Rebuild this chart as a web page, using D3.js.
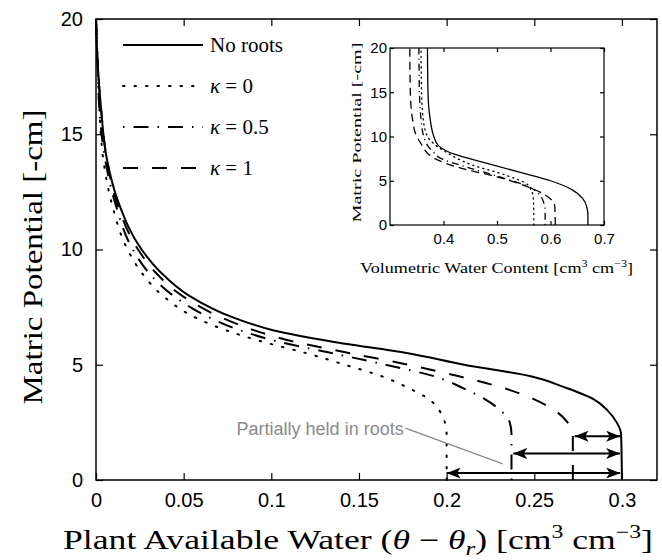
<!DOCTYPE html>
<html>
<head>
<meta charset="utf-8">
<script src="https://cdn.jsdelivr.net/npm/d3@7"></script>
<style>
  body { margin: 0; background: #fff; }
  svg { display: block; }
</style>
</head>
<body>
<div id="chart"></div>
<script>
// matric potential levels (cm) shared by the main curves
const potentials = [0, 2, 2.5, 3, 3.5, 4, 4.5, 5, 5.5, 6, 6.5, 7, 8, 9, 10, 12, 14, 16, 18, 20];

// plant available water (theta - theta_r)
const noRoots  = [0.3, 0.2995, 0.297, 0.292, 0.284, 0.268, 0.248, 0.21, 0.178, 0.135, 0.101, 0.08, 0.053, 0.037, 0.026, 0.013, 0.006, 0.003, 0.001, 0];
const kappa0   = [0.2, 0.2, 0.199, 0.196, 0.19, 0.178, 0.163, 0.142, 0.12, 0.095, 0.074, 0.058, 0.038, 0.026, 0.018, 0.009, 0.004, 0.002, 0.001, 0];
const kappa05  = [0.237, 0.237, 0.236, 0.231, 0.222, 0.209, 0.193, 0.165, 0.135, 0.104, 0.082, 0.066, 0.044, 0.03, 0.021, 0.011, 0.005, 0.002, 0.001, 0];
const kappa1   = [0.272, 0.272, 0.269, 0.262, 0.25, 0.232, 0.207, 0.178, 0.145, 0.113, 0.09, 0.073, 0.049, 0.034, 0.024, 0.012, 0.006, 0.003, 0.001, 0];

// inset: volumetric water content vs potential
const insetNoRootsPot  = [0, 1, 2, 3, 4, 5, 6, 7, 8, 9, 10, 12, 15, 20];
const insetNoRoots     = [0.67, 0.67, 0.668, 0.66, 0.64, 0.6, 0.54, 0.48, 0.42, 0.39, 0.382, 0.375, 0.371, 0.37];
const insetKappa0Pot   = [0, 3, 4.5, 5.66, 6.8, 8.3, 9.4, 10, 12, 15, 20];
const insetKappa0      = [0.569, 0.568, 0.558, 0.515, 0.453, 0.403, 0.378, 0.37, 0.362, 0.359, 0.358];
const insetKappa05Pot  = [0, 1.5, 2.6, 4.15, 5.5, 6.6, 7.7, 8, 9, 10, 12, 15, 20];
const insetKappa05     = [0.59, 0.59, 0.587, 0.565, 0.502, 0.44, 0.39, 0.385, 0.37, 0.363, 0.358, 0.355, 0.354];
const insetKappa1Pot   = [0, 2.1, 3.4, 4.3, 5.5, 6.4, 7.5, 8, 9, 10, 12, 15, 20];
const insetKappa1      = [0.609, 0.608, 0.59, 0.558, 0.496, 0.434, 0.384, 0.372, 0.36, 0.35, 0.342, 0.338, 0.337];

const legendLabels = ["No roots", "κ = 0", "κ = 0.5", "κ = 1"];
const xTicks = [0, 0.05, 0.1, 0.15, 0.2, 0.25, 0.3];
const yTicks = [0, 5, 10, 15, 20];
const insetXTicks = [0.4, 0.5, 0.6, 0.7];

// double arrows: [potential, from, to]
const arrowRows = [[1.9, 0.273, 0.299], [1.15, 0.238, 0.299], [0.3, 0.2, 0.299]];

const dashes = ["none", "1.5,10", "1.5,9,15,9", "15,14"];

const width = 662;
const height = 560;
const margin = { top: 19, right: 5, bottom: 80, left: 96 };
const innerW = width - margin.left - margin.right;
const innerH = height - margin.top - margin.bottom;

const svg = d3.select('#chart')
  .append('svg')
  .attr('width', width)
  .attr('height', height);

svg.append('defs').append('marker')
  .attr('id', 'head')
  .attr('viewBox', '0 0 14 11')
  .attr('refX', 14)
  .attr('refY', 5.5)
  .attr('markerWidth', 14)
  .attr('markerHeight', 11)
  .attr('markerUnits', 'userSpaceOnUse')
  .attr('orient', 'auto-start-reverse')
  .append('path')
  .attr('d', 'M0,0 L14,5.5 L0,11 L3.5,5.5 Z')
  .attr('fill', '#000');

const g = svg.append('g')
  .attr('transform', `translate(${margin.left},${margin.top})`);

const x = d3.scaleLinear().domain([0, 0.32]).range([0, innerW]);
const y = d3.scaleLinear().domain([0, 20]).range([innerH, 0]);

const sansFont = '"Liberation Sans", Arial, sans-serif';
const serifFont = '"Liberation Serif", "DejaVu Serif", serif';

function drawFrame(sel, xs, ys, xt, yt, w, h, tickLen, fontSize, strokeW, xPad, yPad) {
  sel.append('rect')
    .attr('width', w).attr('height', h)
    .attr('fill', 'none').attr('stroke', '#000').attr('stroke-width', strokeW);

  sel.append('g')
    .attr('transform', `translate(0,${h})`)
    .call(d3.axisBottom(xs).tickValues(xt).tickSize(-tickLen).tickPadding(tickLen + xPad).tickFormat(d3.format('~g')))
    .call(a => a.select('.domain').remove())
    .call(a => a.selectAll('text').attr('font-family', sansFont).attr('font-size', fontSize));

  sel.append('g')
    .call(d3.axisTop(xs).tickValues(xt).tickSize(-tickLen).tickFormat(''))
    .call(a => a.select('.domain').remove());

  sel.append('g')
    .call(d3.axisLeft(ys).tickValues(yt).tickSize(-tickLen).tickPadding(tickLen + yPad))
    .call(a => a.select('.domain').remove())
    .call(a => a.selectAll('text').attr('font-family', sansFont).attr('font-size', fontSize));

  sel.append('g')
    .attr('transform', `translate(${w},0)`)
    .call(d3.axisRight(ys).tickValues(yt).tickSize(-tickLen).tickFormat(''))
    .call(a => a.select('.domain').remove());

  sel.selectAll('.tick line').attr('stroke', '#000').attr('stroke-width', 1.2);
}

drawFrame(g, x, y, xTicks, yTicks, innerW, innerH, 7, 20, 1.5, 6, 6);

// main curves
const mainSeries = [noRoots, kappa0, kappa05, kappa1].map(vals => vals.map((v, i) => [v, potentials[i]]));

const line = d3.line()
  .x(d => x(d[0]))
  .y(d => y(d[1]))
  .curve(d3.curveMonotoneY);

g.selectAll('.curve')
  .data(mainSeries)
  .enter().append('path')
  .attr('class', 'curve')
  .attr('fill', 'none')
  .attr('stroke', '#000')
  .attr('stroke-width', 2)
  .attr('stroke-linecap', (d, i) => i === 1 ? 'round' : 'butt')
  .attr('stroke-dasharray', (d, i) => dashes[i])
  .attr('d', d => line(d.slice().sort((a, b) => a[1] - b[1])));

// arrows
g.selectAll('.arrow')
  .data(arrowRows)
  .enter().append('line')
  .attr('x1', d => x(d[1]))
  .attr('x2', d => x(d[2]))
  .attr('y1', d => y(d[0]))
  .attr('y2', d => y(d[0]))
  .attr('stroke', '#000')
  .attr('stroke-width', 2)
  .attr('marker-start', 'url(#head)')
  .attr('marker-end', 'url(#head)');

// annotation
g.append('line')
  .attr('x1', x(0.1765)).attr('y1', y(2.25))
  .attr('x2', x(0.232)).attr('y2', y(0.7))
  .attr('stroke', '#8a8a8a').attr('stroke-width', 1.3);

g.append('text')
  .attr('x', x(0.1755))
  .attr('y', y(1.95))
  .attr('text-anchor', 'end')
  .attr('font-family', sansFont)
  .attr('font-size', 18)
  .attr('fill', '#8a8a8a')
  .text('Partially held in roots');

// legend
const legend = g.append('g').attr('transform', 'translate(27,26)');
const legendRows = legend.selectAll('g')
  .data(legendLabels)
  .enter().append('g')
  .attr('transform', (d, i) => `translate(0,${i * 41})`);

legendRows.append('line')
  .attr('x1', 0).attr('x2', 80)
  .attr('stroke', '#000')
  .attr('stroke-width', 2)
  .attr('stroke-linecap', (d, i) => i === 1 ? 'round' : 'butt')
  .attr('stroke-dasharray', (d, i) => dashes[i]);

legendRows.append('text')
  .attr('x', 87)
  .attr('y', 7)
  .attr('font-family', serifFont)
  .attr('font-size', 21)
  .each(function (d) {
    const t = d3.select(this);
    if (d.startsWith('κ')) {
      t.append('tspan').attr('font-style', 'italic').text('κ');
      t.append('tspan').text(d.slice(1));
    } else {
      t.text(d);
    }
  });

// axis labels
svg.append('text')
  .attr('transform', `translate(42,${257}) rotate(-90)`)
  .attr('text-anchor', 'middle')
  .attr('font-family', serifFont)
  .attr('font-size', 28)
  .attr('textLength', 295)
  .attr('lengthAdjust', 'spacingAndGlyphs')
  .text('Matric Potential [-cm]');

const xl = svg.append('text')
  .attr('x', 63)
  .attr('y', 549)
  .attr('font-family', serifFont)
  .attr('font-size', 27)
  .attr('textLength', 590)
  .attr('lengthAdjust', 'spacingAndGlyphs');
xl.append('tspan').text('Plant Available Water (');
xl.append('tspan').attr('font-style', 'italic').text('θ');
xl.append('tspan').text(' − ');
xl.append('tspan').attr('font-style', 'italic').text('θ');
xl.append('tspan').attr('font-style', 'italic').attr('font-size', 19).attr('dy', 6).text('r');
xl.append('tspan').attr('dy', -6).text(') [cm');
xl.append('tspan').attr('font-size', 18).attr('dy', -11).text('3');
xl.append('tspan').attr('dy', 11).text(' cm');
xl.append('tspan').attr('font-size', 18).attr('dy', -11).text('−3');
xl.append('tspan').attr('dy', 11).text(']');

// inset
const inset = svg.append('g').attr('transform', 'translate(390,48)');
const iw = 214;
const ih = 177;
const ix = d3.scaleLinear().domain([0.3, 0.7]).range([0, iw]);
const iy = d3.scaleLinear().domain([0, 20]).range([ih, 0]);

inset.append('rect').attr('width', iw).attr('height', ih).attr('fill', '#fff');
drawFrame(inset, ix, iy, insetXTicks, yTicks, iw, ih, 4, 15, 1.2, 4, -1);

const insetSeries = [
  insetNoRoots.map((v, i) => [v, insetNoRootsPot[i]]),
  insetKappa0.map((v, i) => [v, insetKappa0Pot[i]]),
  insetKappa05.map((v, i) => [v, insetKappa05Pot[i]]),
  insetKappa1.map((v, i) => [v, insetKappa1Pot[i]])
];

const iline = d3.line()
  .x(d => ix(d[0]))
  .y(d => iy(d[1]))
  .curve(d3.curveMonotoneY);

const insetDashes = ["none", "1.2,4", "1.2,4,7,4", "8,5"];

inset.selectAll('.icurve')
  .data(insetSeries)
  .enter().append('path')
  .attr('class', 'icurve')
  .attr('fill', 'none')
  .attr('stroke', '#000')
  .attr('stroke-width', 1.3)
  .attr('stroke-linecap', (d, i) => i === 1 ? 'round' : 'butt')
  .attr('stroke-dasharray', (d, i) => insetDashes[i])
  .attr('d', iline);

inset.append('text')
  .attr('transform', `translate(-29,${ih / 2 - 4}) rotate(-90)`)
  .attr('text-anchor', 'middle')
  .attr('font-family', serifFont)
  .attr('font-size', 13)
  .attr('textLength', 180)
  .attr('lengthAdjust', 'spacingAndGlyphs')
  .text('Matric Potential [-cm]');

const ixl = inset.append('text')
  .attr('x', -30)
  .attr('y', ih + 48)
  .attr('font-family', serifFont)
  .attr('font-size', 15)
  .attr('textLength', 273)
  .attr('lengthAdjust', 'spacingAndGlyphs');
ixl.append('tspan').text('Volumetric Water Content [cm');
ixl.append('tspan').attr('font-size', 10).attr('dy', -6).text('3');
ixl.append('tspan').attr('dy', 6).text(' cm');
ixl.append('tspan').attr('font-size', 10).attr('dy', -6).text('−3');
ixl.append('tspan').attr('dy', 6).text(']');
</script>
</body>
</html>
